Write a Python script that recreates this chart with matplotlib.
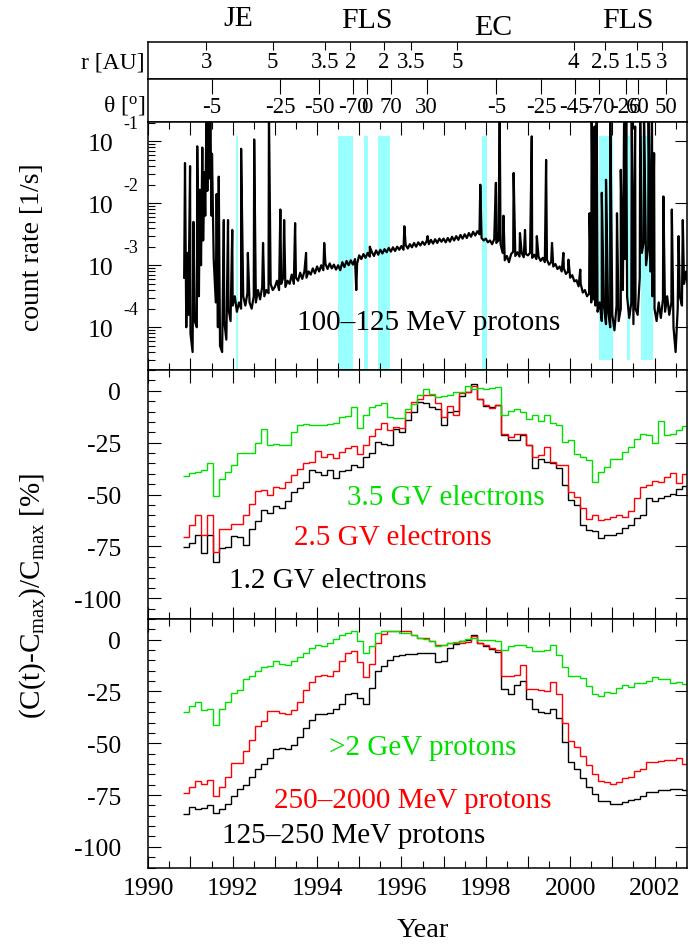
import numpy as np
import matplotlib.pyplot as plt
from matplotlib.ticker import MultipleLocator, FuncFormatter, LogLocator

plt.rcParams['font.family'] = ['Liberation Serif', 'DejaVu Serif']
plt.rcParams['mathtext.fontset'] = 'custom'
plt.rcParams['mathtext.rm'] = 'Liberation Serif'
plt.rcParams['mathtext.it'] = 'Liberation Serif:italic'
plt.rcParams['axes.unicode_minus'] = False

# ---------------- data ----------------
# heliocentric distance / latitude markers along the orbit
r_year = [1991.37, 1992.95, 1994.18, 1994.79, 1995.58, 1996.23, 1997.32,
          2000.08, 2000.83, 2001.58, 2002.17]
r_lab = ['3', '5', '3.5', '2', '2', '3.5', '5', '4', '2.5', '1.5', '3']
th_year = [1991.51, 1993.13, 1994.05, 1994.86, 1995.18, 1995.75, 1996.60,
           1998.25, 1999.32, 2000.11, 2000.69, 2001.32, 2001.60, 2002.28]
th_lab = ['-5', '-25', '-50', '-70', '0', '70', '30', '-5', '-25', '-45',
          '-70', '-26', '60', '50']
phase_lab = ['JE', 'FLS', 'EC', 'FLS']
phase_year = [1992.13, 1995.18, 1998.18, 2001.37]

# fast latitude scan / excluded periods (cyan)
band_start = [1992.08, 1994.50, 1995.11, 1995.45, 1997.92, 2000.69, 2001.34, 2001.67]
band_end = [1992.13, 1994.86, 1995.20, 1995.74, 1998.02, 2001.02, 2001.41, 2001.97]

# 100-125 MeV proton count rate, log10 [1/s], sampled every 0.05 yr from 1990.85
t_base = np.linspace(1990.85, 2002.80, 240)
lg_base = [
    -3.2, -4.0, -3.8,
    -4.1, -4.4, -3.9, -4.0, -3.5, -3.0, -2.6, -2.2, -1.8, -1.6,
    -2.2, -2.9, -3.6, -4.0, -4.3, -4.4, -3.9, -4.2, -3.7, -3.9,
    -3.65, -3.5, -3.75, -3.6, -3.7, -3.5, -3.65, -3.45, -3.6, -3.7,
    -3.5, -3.6, -3.4, -3.55, -3.35, -3.5, -3.4, -3.45, -3.3, -3.4,
    -3.35, -3.25, -3.4, -3.3, -3.2, -3.35, -3.25, -3.3, -3.15, -3.3,
    -3.2, -3.25, -3.12, -3.22, -3.1, -3.2, -3.1, -3.15, -3.05, -3.13,
    -3.02, -3.1, -3.0, -3.08, -2.98, -3.06, -2.97, -3.05, -2.99, -3.07,
    -3.0, -3.08, -2.95, -3.03, -2.93, -3.0, -2.92, -2.99, -2.9, -2.97,
    -2.84, -2.9, -2.82, -2.88, -2.8, -2.86, -2.79, -2.85, -2.76, -2.83,
    -2.75, -2.81, -2.74, -2.79, -2.72, -2.78, -2.71, -2.77, -2.7, -2.75,
    -2.69, -2.75, -2.67, -2.73, -2.66, -2.71, -2.64, -2.7, -2.63, -2.68,
    -2.62, -2.67, -2.61, -2.66, -2.59, -2.65, -2.58, -2.64, -2.57, -2.62,
    -2.57, -2.63, -2.56, -2.62, -2.54, -2.6, -2.53, -2.59, -2.51, -2.57,
    -2.5, -2.56, -2.48, -2.54, -2.46, -2.52, -2.45, -2.5, -2.56, -2.6,
    -2.57, -2.63, -2.6, -2.66, -2.58, -2.64, -2.6, -2.66, -2.8, -2.92,
    -2.85, -2.95, -2.82, -2.78, -2.85, -2.79, -2.86, -2.8, -2.87, -2.82,
    -2.84, -2.8, -2.88, -2.83, -2.9, -2.86, -2.93, -2.88, -2.95, -2.91,
    -2.99, -2.95, -3.02, -2.98, -3.06, -3.02, -3.1, -3.05, -3.14, -3.1,
    -3.2, -3.16, -3.26, -3.24, -3.34, -3.3, -3.44, -3.4, -3.5, -3.46,
    -3.6, -3.55, -3.65, -3.75, -3.6, -3.9, -3.65, -3.95, -3.75, -4.0,
    -3.8, -4.05, -3.65, -3.9, -3.7, -3.4, -2.9, -3.5, -3.85, -3.6,
    -3.95, -3.7, -3.8, -3.2, -2.8, -2.6, -3.0, -2.7, -3.1, -3.5,
    -3.7, -3.9, -3.6, -3.85, -3.55, -3.75, -3.5, -3.8, -3.6, -4.0,
    -4.4, -3.7, -3.5, -3.65, -3.3, -3.1, -3.4,
]
# solar particle events (spikes)
t_spk = [1990.87, 1990.93, 1990.99, 1991.07, 1991.16, 1991.22, 1991.28, 1991.33,
         1991.38, 1991.42, 1991.47, 1991.51, 1991.62, 1991.67, 1991.79, 1991.89,
         1991.99, 1992.20, 1992.36, 1992.51, 1992.72, 1992.86, 1993.13, 1993.22,
         1993.48, 1993.74, 1994.17, 1994.93, 1995.25, 1996.07, 1996.62, 1997.87,
         1998.24, 1998.33, 1998.42, 1998.66, 1998.81, 1998.93, 1999.09, 1999.21,
         1999.43, 1999.57, 1999.84, 1999.96, 2000.24, 2000.46, 2000.51, 2000.58,
         2000.63, 2000.75, 2000.85, 2000.95, 2001.11, 2001.20, 2001.28, 2001.33,
         2001.46, 2001.54, 2001.66, 2001.75, 2001.86, 2001.94, 2001.99, 2002.21,
         2002.41, 2002.57, 2002.67]
lg_spk = [-1.35, -2.8, -1.40, -2.3, -1.08, -1.78, -1.1, -1.5,
          -0.5, -0.5, -0.5, -1.2, -1.85, -1.57, -2.27, -2.27,
          -2.43, -1.12, -2.8, -0.97, -2.64, -0.5, -2.10, -2.27,
          -2.32, -2.8, -2.64, -3.4, -2.70, -2.37, -2.53, -1.70,
          -1.67, -0.5, -2.2, -1.51, -2.48, -2.43, -0.92, -2.53,
          -1.30, -2.64, -2.80, -2.91, -3.07, -2.16, -0.5, -0.76,
          -0.5, -1.83, -1.62, -0.5, -2.16, -1.46, -0.5, -0.5,
          -0.5, -0.76, -0.5, -0.5, -0.5, -0.5, -1.19, -1.89,
          -2.10, -2.53, -2.27]

# 52-day averaged relative count rates [%]
t_bin = 1990.82 + 0.1425 * np.arange(85)
e35 = [-41, -39.5, -39, -38.4, -34.7, -50.6, -42.5, -39, -35.8, -29.8,
       -29.8, -29.8, -25, -18.3, -26.3, -25.6, -26.3, -26.3, -19.9, -16.7,
       -15.9, -16.4, -16.4, -16.4, -15.9, -15.5, -12.7, -12, -8, -18,
       -11.9, -8, -6.8, -5.9, -12.7, -13, -13, -8.8, -6.4, -2,
       0.8, -1.6, -3.2, -2.4, -2.1, -0.8, -0.5, 2.1, 0.8, 1.3,
       0.8, 1.3, 1.6, -11.9, -9.6, -8.8, -10.3, -13.5, -11.9, -14.8,
       -11.6, -15.4, -16.4, -24.7, -23.9, -30.7, -31.8, -33.4, -44.1, -39,
       -36.6, -33, -33, -29.5, -27, -23.4, -20.7, -21.5, -25, -14.8,
       -21.5, -20.7, -19.1, -17]
e25 = [-70.5, -64.5, -60, -69.3, -60, -77.5, -66.4, -66.4, -64.2, -64,
       -59.7, -54.6, -48.2, -47.7, -50.1, -46.2, -46.7, -44.1, -40.6, -37.7,
       -35, -34.2, -29.1, -31.8, -30.7, -32.6, -29.5, -27.5, -26.6, -30.7,
       -26, -21.8, -18.6, -15.4, -19.1, -17.5, -18, -10.3, -5.6, -4,
       -2.1, -2.1, -5.9, -12.7, -7.2, -11.9, -1.1, -0.8, 2.4, -4,
       -6.8, -8.4, -6.8, -20.7, -22.3, -20.7, -20.7, -26, -31.8, -31,
       -27, -34.2, -35.8, -36, -48.6, -51, -56.5, -61.6, -59.7, -62.1,
       -61.6, -61, -60, -61, -58.1, -51.7, -46.6, -45.4, -43.5, -44.1,
       -41.4, -39.8, -44.6, -40.3]
e12 = [-75.3, -73.2, -69.3, -78, -69.3, -82.3, -75.6, -75.3, -70, -70.5,
       -74.5, -66.4, -62.6, -57.3, -58.9, -55.7, -56.5, -53, -48.6, -47,
       -43.8, -38.2, -39, -40.6, -38.2, -42.2, -38.5, -38.2, -35.8, -36.6,
       -31.8, -29.8, -24.7, -25.5, -26.3, -18.3, -20, -14.3, -10.3, -5.6,
       -6, -8, -8.8, -16.7, -10.3, -9.6, -2.4, -0.8, 3.2, -4,
       -7.2, -8, -6.8, -21.5, -23.9, -23.9, -21.5, -26.3, -37.4, -33,
       -34.2, -35, -37, -45.4, -52.5, -55, -64.5, -66.9, -67.7, -70.9,
       -69.7, -69.3, -68.5, -66, -64.8, -61.3, -60, -51.7, -53.3, -51.7,
       -50.5, -49.9, -47.3, -46]
p2g = [-34.9, -32, -29.9, -34.1, -33.6, -41.3, -33.6, -29.9, -25.6, -24.5,
       -19.2, -17.6, -14.9, -13.3, -12.8, -10.4, -11.7, -12, -10.4, -8.5,
       -6.4, -4, -2.7, -3.2, -1.6, 0.5, 2.4, 3.2, 4, -0.5,
       -6.4, -3.2, 3.2, 4.3, 4, 4, 3.2, 3.2, 2.1, 0.8,
       0.5, -0.8, -3.2, -2.4, -1.6, -1.1, -0.5, 0.5, 0.8, 0,
       -0.2, 0, -0.5, -4.8, -3.2, -2.7, -2.4, -3.7, -5.6, -5.3,
       -4.8, -2.7, -7.5, -13.3, -17.6, -17.6, -18.4, -22.4, -26.4, -27.2,
       -25.1, -25.6, -23.2, -21.9, -22.9, -20.8, -20.8, -20, -18.1, -19.2,
       -19.2, -20.8, -20.3, -21.6]
p250 = [-74.1, -71.2, -68.3, -69.9, -67.7, -75.7, -70.9, -66.1, -59.7, -59.7,
        -53.9, -48.5, -41.6, -39.2, -34.4, -34.4, -35.2, -35.7, -34.1, -29.9,
        -24.5, -20.3, -17.6, -17.1, -17.6, -14.9, -10.4, -6.4, -5.3, -10.7,
        -18.1, -11.7, -1.6, 2.7, 4, 4, 4.3, 4.3, 2.1, 0.8,
        0.8, -0.5, -2.4, -2.7, -1.6, -1.6, -1.6, -1.1, 1.6, -1.6,
        -2.7, -4, -4.8, -17.6, -17.6, -17.1, -12.3, -24, -24, -24.5,
        -24.8, -20.3, -26.4, -40, -49.1, -51.7, -56, -60.3, -64.8, -68.3,
        -68.8, -69.9, -68.8, -66.7, -66.4, -63.2, -62.4, -59.2, -59.2, -58.4,
        -58.1, -58.1, -57.1, -60]
p125 = [-84, -80.8, -81.6, -81.1, -80, -83.7, -81.6, -79.2, -75.7, -72,
        -70.4, -66.4, -62.4, -60, -57.1, -52.8, -52.3, -52.8, -50.7, -47.2,
        -42.4, -38.9, -36, -35.7, -35.2, -33.6, -30.9, -26.4, -25.6, -28,
        -30.9, -23.5, -15.2, -12.8, -9.6, -8, -7.2, -6.9, -6.9, -6.6,
        -6.6, -6.4, -10.7, -10.1, -4, -2.1, -0.8, 0, 2.1, -1.6,
        -3.2, -4.3, -5.9, -24, -26.4, -21.9, -20, -28.8, -33.3, -34.7,
        -35.4, -33.6, -37.6, -49.6, -59.2, -62.4, -66.7, -70.9, -74.4, -77.9,
        -77.9, -79.5, -79.2, -78.4, -77.6, -76.8, -75.7, -73.6, -73.6, -72.8,
        -72.8, -72, -72, -72.5]

decades = [-1, -2, -3, -4]

GREEN = '#00e000'
RED = '#ff0000'
CYAN = '#99ffff'
W, H = 688.0, 945.0
XMIN, XMAX = 1990.0, 2002.77


def box(top, bottom):
    # axes rectangle from pixel rows
    return [148.3 / W, 1 - bottom / H, (687.0 - 148.3) / W, (bottom - top) / H]


fig = plt.figure(figsize=(6.88, 9.45), dpi=100)
ax_r = fig.add_axes(box(43.3, 80.0))
ax_t = fig.add_axes(box(80.0, 123.3))
ax_c = fig.add_axes(box(123.3, 371.0))
ax_e = fig.add_axes(box(371.0, 620.0))
ax_p = fig.add_axes(box(620.0, 868.5))

for ax in (ax_r, ax_t, ax_c, ax_e, ax_p):
    ax.set_xlim(XMIN, XMAX)
    for s in ax.spines.values():
        s.set_linewidth(1.1)

# ---- orbit panels
for ax, yrs, labs, tl in ((ax_r, r_year, r_lab, 5.8), (ax_t, th_year, th_lab, 10.8)):
    ax.set_yticks([])
    ax.set_xticks(yrs)
    ax.tick_params(axis='x', which='both', top=True, bottom=False, direction='in',
                   length=tl, width=0.8, labelbottom=False, labeltop=False)
    ax.minorticks_off()
ax_r.set_xticks([], minor=True)
ax_t.set_xticks([], minor=True)
for x, s in zip(r_year, r_lab):
    ax_r.text(x, 0.32, s, ha='center', va='baseline', fontsize=16.5,
              transform=ax_r.get_xaxis_transform())
for x, s in zip(th_year, th_lab):
    ax_t.text(x, 0.23, s, ha='center', va='baseline', fontsize=16.5,
              transform=ax_t.get_xaxis_transform())
for x, s, yb in zip(phase_year, phase_lab, [1.471, 1.409, 1.226, 1.409]):
    ax_r.text(x, yb, s, ha='center', va='baseline', fontsize=21.5,
              transform=ax_r.get_xaxis_transform())
fig.text(145 / W, 1 - 68.3 / H, 'r [AU]', ha='right', va='baseline', fontsize=17)
fig.text(145 / W, 1 - 111.7 / H, r'θ [$^{\rm o}$]', ha='right', va='baseline', fontsize=17)

# ---- count rate panel
for t0, t1, lo in zip(band_start, band_end, [0, 0, 0, 0, 0, 0.04, 0.04, 0.04]):
    ax_c.axvspan(t0, t1, ymin=lo, ymax=0.946, color=CYAN, lw=0, zorder=1)
t_all = np.concatenate([t_base, t_spk])
lg_all = np.concatenate([lg_base, lg_spk])
order = np.argsort(t_all, kind='stable')
ax_c.plot(t_all[order], 10.0 ** lg_all[order], color='black', lw=1.6, zorder=2)
ax_c.set_yscale('log')
ax_c.set_ylim(10 ** -4.69, 10 ** -0.693)
ax_c.yaxis.set_major_locator(LogLocator(base=10, numticks=10))
ax_c.yaxis.set_minor_locator(LogLocator(base=10, subs=np.arange(2, 10), numticks=20))
ax_c.yaxis.set_major_formatter(FuncFormatter(lambda v, p: '10'))
ax_c.yaxis.set_minor_formatter(FuncFormatter(lambda v, p: ''))
ax_c.tick_params(axis='y', which='major', pad=25)
for k in decades:
    ax_c.annotate('%d' % k, xy=(0, 10.0 ** k), xycoords=('axes fraction', 'data'),
                  xytext=(-18.2, 12.6), textcoords='offset points',
                  ha='left', va='center', fontsize=13, annotation_clip=False)
ax_c.text(1996.64, 10 ** -4.03, '100–125 MeV protons', ha='center', va='baseline',
          fontsize=21)
fig.text(33 / W, 1 - 247.5 / H, 'count rate [1/s]', rotation=90, ha='center',
         va='center', fontsize=20)

# ---- relative rate panels
for t_lab in ((ax_e, [(e12, 'black'), (e25, RED), (e35, GREEN)]),
              (ax_p, [(p125, 'black'), (p250, RED), (p2g, GREEN)])):
    ax, series = t_lab
    for vals, col in series:
        ax.stairs(vals, t_bin, baseline=None, color=col, lw=1.0)
    ax.set_ylim(-110, 10)
    ax.yaxis.set_major_locator(MultipleLocator(25))
    ax.yaxis.set_minor_locator(MultipleLocator(5))
    ax.yaxis.set_major_formatter(FuncFormatter(lambda v, p: '%d' % round(v)))
    ax.tick_params(axis='y', which='major', pad=19.5)

ax_e.text(1997.06, -54.6, '3.5 GV electrons', color=GREEN, ha='center', va='baseline', fontsize=21)
ax_e.text(1995.80, -73.7, '2.5 GV electrons', color=RED, ha='center', va='baseline', fontsize=21)
ax_e.text(1994.25, -94.4, '1.2 GV electrons', color='black', ha='center', va='baseline', fontsize=21)
ax_p.text(1996.51, -55.2, '>2 GeV protons', color=GREEN, ha='center', va='baseline', fontsize=21)
ax_p.text(1996.28, -80.8, '250–2000 MeV protons', color=RED, ha='center', va='baseline', fontsize=21)
ax_p.text(1994.86, -97.6, '125–250 MeV protons', color='black', ha='center', va='baseline', fontsize=21)
fig.text(33 / W, 1 - 596.5 / H, r'(C(t)-C$_{\rm max}$)/C$_{\rm max}$ [%]', rotation=90,
         ha='center', va='center', fontsize=21)

# ---- common time axis styling
for ax in (ax_c, ax_e, ax_p):
    ax.xaxis.set_major_locator(MultipleLocator(1))
    ax.xaxis.set_minor_locator(MultipleLocator(0.5))
    ax.tick_params(axis='x', which='both', top=True, bottom=True, direction='in',
                   labelbottom=False)
    ax.tick_params(axis='y', which='both', left=True, direction='in')
    ax.tick_params(axis='y', which='major', right=True)
    ax.tick_params(axis='y', which='minor', right=False)
    ax.tick_params(which='major', length=9, width=0.8, labelsize=18.5)
    ax.tick_params(which='minor', length=4.7, width=0.8)

ax_p.xaxis.set_major_formatter(FuncFormatter(
    lambda v, p: '%d' % round(v) if round(v) % 2 == 0 else ''))
ax_p.tick_params(axis='x', labelbottom=True, pad=7)
fig.text(423 / W, 1 - 937 / H, 'Year', ha='center', va='baseline', fontsize=20.5)

fig.savefig('out.png', dpi=100)
